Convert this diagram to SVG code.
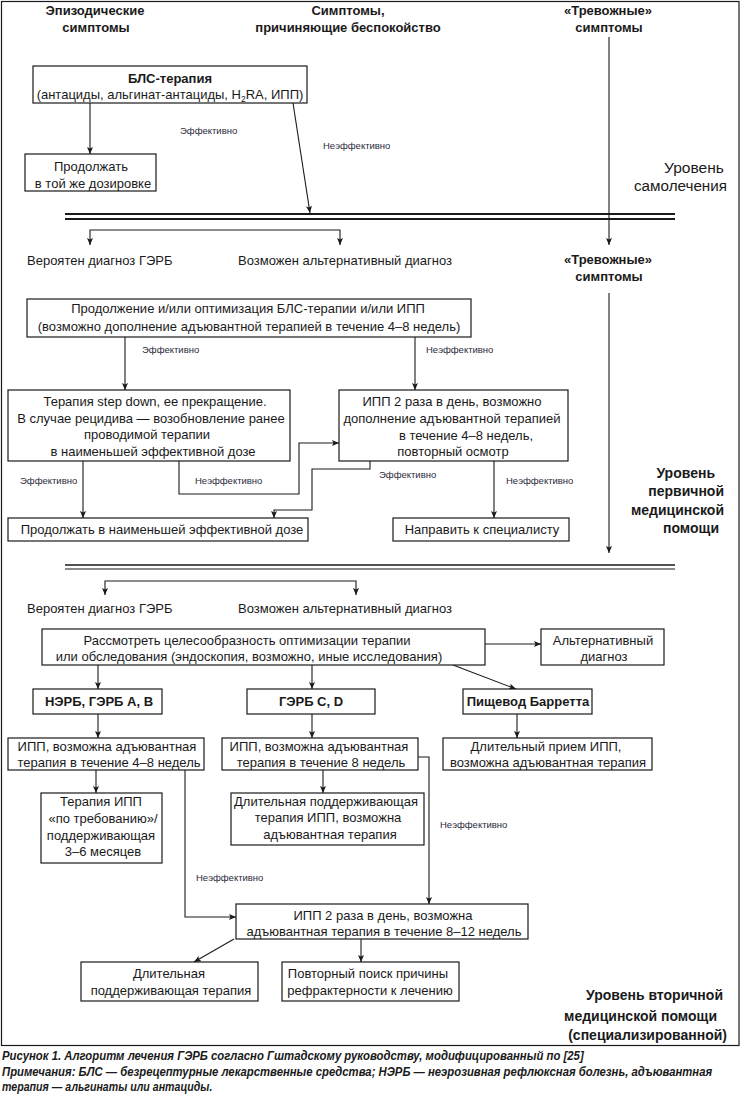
<svg xmlns="http://www.w3.org/2000/svg" width="742" height="1094" viewBox="0 0 742 1094">
<defs>
<marker id="ah" viewBox="0 0 7 6" refX="7" refY="3" markerWidth="7" markerHeight="6" markerUnits="userSpaceOnUse" orient="auto">
<path d="M0,0 L7,3 L0,6 L1.5,3 z" fill="#1a1a1a"/>
</marker>
<style>
text{font-family:"Liberation Sans",Arial,sans-serif;fill:#1a1a1a}
.t{font-size:13px;text-anchor:middle}
.s{font-size:13px}
.h{font-size:13px;font-weight:bold;text-anchor:middle}
.b{font-weight:bold}
.l{font-size:9.5px;fill:#2a2a3a}
.lv{font-size:14px;font-weight:bold;text-anchor:end}
.lr{font-size:15.5px;text-anchor:end}
.cap{font-size:12px;font-weight:bold;font-style:italic}
.box{fill:#fff;stroke:#1a1a1a;stroke-width:1.2}
.c{fill:none;stroke:#1a1a1a;stroke-width:1.1;marker-end:url(#ah)}
</style>
</defs>
<rect x="1.5" y="1.5" width="737.5" height="1044" fill="#fff" stroke="#1a1a1a" stroke-width="1.2"/>

<g id="headers">
<text class="h" x="95" y="15">Эпизодические</text>
<text class="h" x="96" y="32">симптомы</text>
<text class="h" x="348" y="15">Симптомы,</text>
<text class="h" x="348" y="32">причиняющие беспокойство</text>
<text class="h" x="608" y="15">«Тревожные»</text>
<text class="h" x="609" y="32">симптомы</text>
</g>

<g id="levels">
<text class="lr" x="724" y="173" textLength="60" lengthAdjust="spacingAndGlyphs">Уровень</text>
<text class="lr" x="727" y="191" textLength="93" lengthAdjust="spacingAndGlyphs">самолечения</text>
<text class="lv" x="715" y="478">Уровень</text>
<text class="lv" x="724" y="496">первичной</text>
<text class="lv" x="724" y="515">медицинской</text>
<text class="lv" x="719" y="533">помощи</text>
<text class="lv" x="723" y="1000">Уровень вторичной</text>
<text class="lv" x="717" y="1021">медицинской помощи</text>
<text class="lv" x="727" y="1040">(специализированной)</text>
</g>

<g id="separators">
<line x1="65" y1="214" x2="675" y2="214" stroke="#1a1a1a" stroke-width="2.2"/>
<line x1="65" y1="219" x2="675" y2="219" stroke="#1a1a1a" stroke-width="2.2"/>
<line x1="65" y1="565" x2="675" y2="565" stroke="#1a1a1a" stroke-width="1.3"/>
<line x1="65" y1="569" x2="675" y2="569" stroke="#8a8a8a" stroke-width="2"/>
</g>

<g id="connectors">
<path class="c" d="M90,103 V154"/>
<path class="c" d="M293,103 L310,213"/>
<path class="c" d="M609,37 V245"/>
<path class="c" d="M200,230 H90 V245"/>
<path class="c" d="M200,230 H340 V245"/>
<path class="c" d="M125,337 V390"/>
<path class="c" d="M415,337 V390"/>
<path class="c" d="M179,461 V494 H299 V443 H339"/>
<path class="c" d="M370,461 V469 H312 V510 H274 V518"/>
<path class="c" d="M83,461 V518"/>
<path class="c" d="M494,461 V518"/>
<path class="c" d="M609,293 V553"/>
<path class="c" d="M230,581 H105 V595"/>
<path class="c" d="M230,581 H356 V595"/>
<path class="c" d="M485,644 H541"/>
<path class="c" d="M98,665 V689"/>
<path class="c" d="M312,665 V689"/>
<path class="c" d="M453,665 L516,689"/>
<path class="c" d="M98,714 V738"/>
<path class="c" d="M312,714 V738"/>
<path class="c" d="M517,714 V738"/>
<path class="c" d="M96,770 V793"/>
<path class="c" d="M185,770 V917 H236"/>
<path class="c" d="M418,757 H429 V904"/>
<path class="c" d="M323,770 V793"/>
<path class="c" d="M234,939 L194,962"/>
<path class="c" d="M361,939 V962"/>
</g>

<g id="labels">
<text class="l" x="180" y="134">Эффективно</text>
<text class="l" x="323" y="149">Неэффективно</text>
<text class="l" x="142" y="353">Эффективно</text>
<text class="l" x="426" y="353">Неэффективно</text>
<text class="l" x="195" y="484">Неэффективно</text>
<text class="l" x="379" y="478">Эффективно</text>
<text class="l" x="20" y="484">Эффективно</text>
<text class="l" x="506" y="484">Неэффективно</text>
<text class="l" x="440" y="828">Неэффективно</text>
<text class="l" x="196" y="881">Неэффективно</text>
</g>

<g id="n-bls">
<rect class="box" x="33" y="66" width="274" height="37"/>
<text class="t b" x="170" y="83">БЛС-терапия</text>
<text class="t" x="170" y="99">(антациды, альгинат-антациды, H<tspan font-size="8.5" dy="3">2</tspan><tspan dy="-3">RA, ИПП)</tspan></text>
</g>

<g id="n-continue-same">
<rect class="box" x="25" y="154" width="131" height="37"/>
<text class="t" x="91" y="171">Продолжать</text>
<text class="t" x="93" y="188">в той же дозировке</text>
</g>

<g id="n-gerd1">
<text class="s" x="27" y="265">Вероятен диагноз ГЭРБ</text>
</g>
<g id="n-alt1">
<text class="s" x="238" y="265">Возможен альтернативный диагноз</text>
</g>
<g id="n-alarm2">
<text class="h" x="608" y="264">«Тревожные»</text>
<text class="h" x="609" y="281">симптомы</text>
</g>

<g id="n-optimize">
<rect class="box" x="27" y="299" width="444" height="38"/>
<text class="t" x="248" y="313">Продолжение и/или оптимизация БЛС-терапии и/или ИПП</text>
<text class="t" x="249" y="331">(возможно дополнение адъювантной терапией в течение 4–8 недель)</text>
</g>

<g id="n-stepdown">
<rect class="box" x="8" y="390" width="282" height="71"/>
<text class="t" x="155" y="406">Терапия step down, ее прекращение.</text>
<text class="t" x="151" y="423">В случае рецидива — возобновление ранее</text>
<text class="t" x="147" y="439">проводимой терапии</text>
<text class="t" x="153" y="456">в наименьшей эффективной дозе</text>
</g>

<g id="n-ipp2x">
<rect class="box" x="339" y="390" width="229" height="71"/>
<text class="t" x="452" y="406">ИПП 2 раза в день, возможно</text>
<text class="t" x="452" y="423">дополнение адъювантной терапией</text>
<text class="t" x="466" y="440">в течение 4–8 недель,</text>
<text class="t" x="453" y="456">повторный осмотр</text>
</g>

<g id="n-lowest">
<rect class="box" x="8" y="518" width="300" height="23"/>
<text class="t" x="162" y="534">Продолжать в наименьшей эффективной дозе</text>
</g>

<g id="n-specialist">
<rect class="box" x="393" y="518" width="176" height="23"/>
<text class="t" x="482" y="534">Направить к специалисту</text>
</g>

<g id="n-gerd2">
<text class="s" x="27" y="613">Вероятен диагноз ГЭРБ</text>
</g>
<g id="n-alt2">
<text class="s" x="238" y="613">Возможен альтернативный диагноз</text>
</g>

<g id="n-consider">
<rect class="box" x="42" y="629" width="443" height="36"/>
<text class="t" x="247" y="645">Рассмотреть целесообразность оптимизации терапии</text>
<text class="t" x="249" y="661">или обследования (эндоскопия, возможно, иные исследования)</text>
</g>

<g id="n-altdiag">
<rect class="box" x="541" y="629" width="123" height="36"/>
<text class="t" x="603" y="645">Альтернативный</text>
<text class="t" x="604" y="661">диагноз</text>
</g>

<g id="n-nerd">
<rect class="box" x="33" y="689" width="129" height="25"/>
<text class="t b" x="99" y="706">НЭРБ, ГЭРБ А, В</text>
</g>
<g id="n-gerdcd">
<rect class="box" x="247" y="689" width="128" height="25"/>
<text class="t b" x="311" y="706">ГЭРБ С, D</text>
</g>
<g id="n-barrett">
<rect class="box" x="463" y="689" width="129" height="25"/>
<text class="t b" x="528" y="706">Пищевод Барретта</text>
</g>

<g id="n-ipp48">
<rect class="box" x="8" y="738" width="196" height="32"/>
<text class="t" x="107" y="751">ИПП, возможна адъювантная</text>
<text class="t" x="109" y="767">терапия в течение 4–8 недель</text>
</g>
<g id="n-ipp8">
<rect class="box" x="222" y="738" width="196" height="32"/>
<text class="t" x="319" y="751">ИПП, возможна адъювантная</text>
<text class="t" x="321" y="767">терапия в течение 8 недель</text>
</g>
<g id="n-longipp">
<rect class="box" x="443" y="738" width="209" height="32"/>
<text class="t" x="546" y="751">Длительный прием ИПП,</text>
<text class="t" x="548" y="767">возможна адъювантная терапия</text>
</g>

<g id="n-ondemand">
<rect class="box" x="41" y="793" width="121" height="70"/>
<text class="t" x="101" y="806">Терапия ИПП</text>
<text class="t" x="103" y="823">«по требованию»/</text>
<text class="t" x="101" y="840">поддерживающая</text>
<text class="t" x="103" y="856">3–6 месяцев</text>
</g>

<g id="n-maint">
<rect class="box" x="231" y="793" width="193" height="52"/>
<text class="t" x="326" y="806">Длительная поддерживающая</text>
<text class="t" x="328" y="822">терапия ИПП, возможна</text>
<text class="t" x="330" y="839">адъювантная терапия</text>
</g>

<g id="n-ipp812">
<rect class="box" x="236" y="904" width="292" height="35"/>
<text class="t" x="383" y="920">ИПП 2 раза в день, возможна</text>
<text class="t" x="384" y="936">адъювантная терапия в течение 8–12 недель</text>
</g>

<g id="n-longmaint">
<rect class="box" x="81" y="962" width="177" height="39"/>
<text class="t" x="169" y="978">Длительная</text>
<text class="t" x="171" y="995">поддерживающая терапия</text>
</g>

<g id="n-refractory">
<rect class="box" x="282" y="962" width="177" height="39"/>
<text class="t" x="368" y="978">Повторный поиск причины</text>
<text class="t" x="370" y="995">рефрактерности к лечению</text>
</g>

<g id="caption" transform="scale(0.88,1)">
<text class="cap" x="2.3" y="1060" textLength="661" lengthAdjust="spacingAndGlyphs">Рисунок 1. Алгоритм лечения ГЭРБ согласно Гштадскому руководству, модифицированный по [25]</text>
<text class="cap" x="2.3" y="1076" textLength="807" lengthAdjust="spacingAndGlyphs">Примечания: БЛС — безрецептурные лекарственные средства; НЭРБ — неэрозивная рефлюксная болезнь, адъювантная</text>
<text class="cap" x="2.3" y="1091" textLength="239" lengthAdjust="spacingAndGlyphs">терапия — альгинаты или антациды.</text>
</g>
</svg>
